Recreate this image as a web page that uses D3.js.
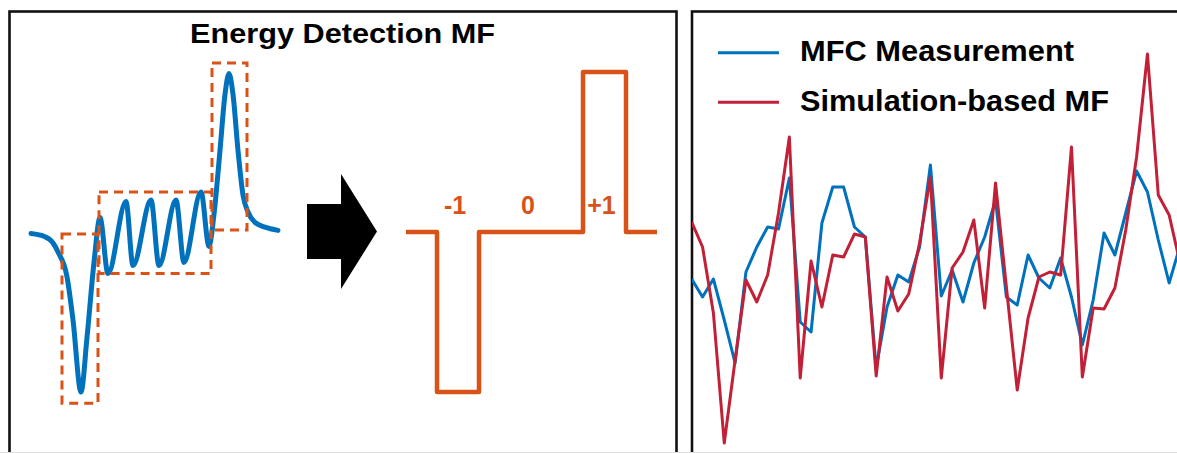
<!DOCTYPE html>
<html><head><meta charset="utf-8">
<script src="https://cdn.jsdelivr.net/npm/d3@7"></script>
<style>html,body{margin:0;padding:0;background:#fff;overflow:hidden}</style>
</head><body>
<svg id="chart" width="1177" height="453" xmlns="http://www.w3.org/2000/svg"></svg>
<script>
// ---------- Left panel: MFC signal (arbitrary time units, normalised amplitude)
const signalT = [0,14,21,27,36,42,50,56,63,69,77,95,102,120,128,145,153,170,178,183,189,194,198,202,207,212,217,224,234,247];
const signalV = [-0.01,-0.03,-0.06,-0.125,-0.28,-0.55,-1.0,-0.66,-0.19,0.09,-0.26,0.19,-0.21,0.2,-0.21,0.2,-0.19,0.25,-0.09,0.11,0.51,0.86,0.99,0.86,0.51,0.23,0.125,0.06,0.03,0.01];

// Energy-detection regions (dashed boxes)
const regionT0 = [31, 68, 181];
const regionT1 = [67, 180, 216];
const regionVTop = [-0.0125, 0.25, 1.056];
const regionVBottom = [-1.07, -0.26, 0.0125];

// Matched-filter weights (step function)
const mfEdges = [0, 31, 73, 177, 220, 251];
const mfLevels = [0, -1, 0, 1, 0];
const mfLabels = ["-1", "0", "+1"];

// ---------- Right panel: MF outputs per sample
const mfcMeasurement = [-0.06,-0.24,-0.06,-0.47,-0.90,0.01,0.26,0.46,0.44,0.95,-0.49,-0.59,0.50,0.86,0.86,0.46,0.36,-0.95,-0.34,-0.02,-0.09,0.26,1.08,-0.23,0.03,-0.29,0.10,0.36,0.73,-0.24,-0.32,0.18,-0.05,-0.15,0.15,-0.24,-0.72,-0.27,0.40,0.18,0.60,1.02,0.81,0.33,-0.10,0.27];
const simulationMF = [0.51,0.26,-0.40,-1.70,-0.87,-0.07,-0.29,-0.02,0.60,1.36,-1.05,0.12,-0.34,0.18,0.16,0.39,0.36,-1.03,-0.04,-0.38,-0.21,0.30,0.96,-1.05,0.05,0.21,0.53,-0.35,0.90,-0.14,-1.17,-0.45,-0.04,0.01,-0.02,1.26,-1.04,-0.35,-0.36,-0.15,0.43,1.16,2.19,0.78,0.58,0.10];
const legendLabels = ["MFC Measurement", "Simulation-based MF"];
const titleText = "Energy Detection MF";

// arrow template (unit square)
const arrowShape = [[0,0.26],[0.486,0.26],[0.486,0],[1,0.5],[0.486,1],[0.486,0.74],[0,0.74]];

const BLUE = "#0072BD", ORANGE = "#D95319", RED = "#C12037";
const FONT = "'Liberation Sans', Arial, Helvetica, sans-serif";

const svg = d3.select("#chart");
svg.append("rect").attr("width",1177).attr("height",453).attr("fill","#fff");

// ---------- scales
const xSig = d3.scaleLinear().domain([0, 247]).range([31, 278]);
const yAmp = d3.scaleLinear().domain([-1, 1]).range([392, 72]);
const xMF = d3.scaleLinear().domain([0, 251]).range([406, 657]);
const xArrow = d3.scaleLinear().domain([0,1]).range([307, 377]);
const yArrow = d3.scaleLinear().domain([0,1]).range([174, 289]);
const xIdx = d3.scaleLinear().domain([0, 45]).range([691.7, 1180]);
const yOut = d3.scaleLinear().domain([-1.8, 2.2]).range([453, 53]);

// ---------- panel borders
svg.append("rect").attr("x",9.5).attr("y",11.5).attr("width",667).attr("height",460)
  .attr("fill","none").attr("stroke","#111").attr("stroke-width",2.6);
svg.append("rect").attr("x",692).attr("y",11.5).attr("width",600).attr("height",460)
  .attr("fill","none").attr("stroke","#111").attr("stroke-width",2.6);

// ---------- left panel
svg.append("text").attr("x",190).attr("y",43.3)
  .attr("font-family",FONT).attr("font-weight","bold").attr("font-size",28)
  .attr("textLength",305).attr("lengthAdjust","spacingAndGlyphs")
  .attr("fill","#000").text(titleText);

const sigLine = d3.line().x((d,i)=>xSig(signalT[i])).y(d=>yAmp(d)).curve(d3.curveMonotoneX);
svg.append("path").datum(signalV).attr("d",sigLine)
  .attr("fill","none").attr("stroke",BLUE).attr("stroke-width",5)
  .attr("stroke-linecap","round").attr("stroke-linejoin","round");

svg.append("g").selectAll("rect").data(regionT0).join("rect")
  .attr("x",(d)=>xSig(d))
  .attr("y",(d,i)=>yAmp(regionVTop[i]))
  .attr("width",(d,i)=>xSig(regionT1[i])-xSig(d))
  .attr("height",(d,i)=>yAmp(regionVBottom[i])-yAmp(regionVTop[i]))
  .attr("fill","none").attr("stroke",ORANGE).attr("stroke-width",3)
  .attr("stroke-dasharray","9,6");

// arrow
svg.append("path")
  .attr("d", d3.line().x(d=>xArrow(d[0])).y(d=>yArrow(d[1]))(arrowShape) + "Z")
  .attr("fill","#000");

// step MF
const stepPts = [];
mfLevels.forEach((lv,i)=>{ stepPts.push([mfEdges[i], lv]); stepPts.push([mfEdges[i+1], lv]); });
svg.append("path").datum(stepPts)
  .attr("d", d3.line().x(d=>xMF(d[0])).y(d=>yAmp(d[1])))
  .attr("fill","none").attr("stroke",ORANGE).attr("stroke-width",4.5)
  .attr("stroke-linejoin","round");

svg.append("g").selectAll("text").data(mfLabels).join("text")
  .attr("x",(d,i)=>xMF((mfEdges[i+1]+mfEdges[i+2])/2) - 3)
  .attr("y",yAmp(0) - 18)
  .attr("text-anchor","middle")
  .attr("font-family",FONT).attr("font-weight","bold").attr("font-size",25)
  .attr("fill",ORANGE).text(d=>d);

// ---------- right panel
svg.append("clipPath").attr("id","rclip").append("rect")
  .attr("x",692).attr("y",12).attr("width",600).attr("height",460);
const rg = svg.append("g").attr("clip-path","url(#rclip)");
const outLine = d3.line().x((d,i)=>xIdx(i)).y(d=>yOut(d));
rg.append("path").datum(mfcMeasurement).attr("d",outLine)
  .attr("fill","none").attr("stroke",BLUE).attr("stroke-width",3).attr("stroke-linejoin","round");
rg.append("path").datum(simulationMF).attr("d",outLine)
  .attr("fill","none").attr("stroke",RED).attr("stroke-width",3).attr("stroke-linejoin","round");

// legend
const legColors = [BLUE, RED];
const legWidths = [274, 309];
const legY = [52.7, 102.3];
const leg = svg.append("g");
legendLabels.forEach((lab,i)=>{
  leg.append("line").attr("x1",718).attr("x2",779).attr("y1",legY[i]).attr("y2",legY[i])
    .attr("stroke",legColors[i]).attr("stroke-width",3);
  leg.append("text").attr("x",800).attr("y",legY[i]+8.5)
    .attr("font-family",FONT).attr("font-weight","bold").attr("font-size",29)
    .attr("textLength",legWidths[i]).attr("lengthAdjust","spacingAndGlyphs")
    .attr("fill","#000").text(lab);
});

// faint bottom edge
svg.append("line").attr("x1",0).attr("x2",1177).attr("y1",452.5).attr("y2",452.5)
  .attr("stroke","#dcdcdc").attr("stroke-width",1);
</script>
</body></html>
